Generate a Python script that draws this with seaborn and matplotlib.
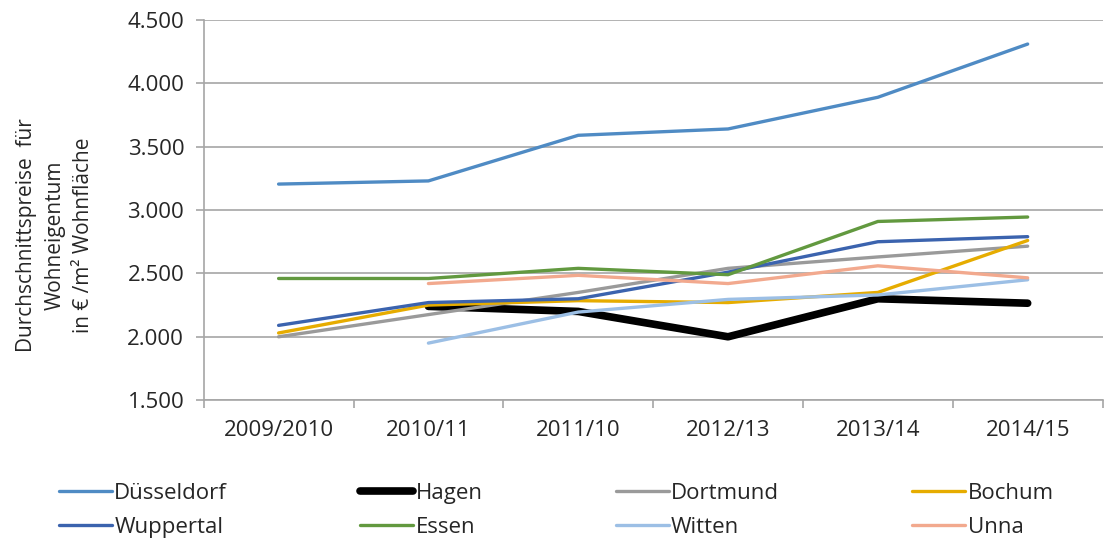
import matplotlib
matplotlib.use("Agg")
import matplotlib.pyplot as plt
import seaborn as sns
import numpy as np
import pandas as pd

years = ["2009/2010", "2010/11", "2011/10", "2012/13", "2013/14", "2014/15"]
duesseldorf = [3205, 3230, 3590, 3640, 3890, 4310]
hagen = [np.nan, 2240, 2200, 2000, 2300, 2265]
dortmund = [2000, 2175, 2350, 2540, 2630, 2715]
bochum = [2030, 2250, 2285, 2270, 2350, 2760]
wuppertal = [2090, 2270, 2300, 2510, 2750, 2790]
essen = [2460, 2460, 2540, 2490, 2910, 2945]
witten = [np.nan, 1950, 2195, 2295, 2330, 2450]
unna = [np.nan, 2420, 2485, 2420, 2560, 2465]

names = ["Düsseldorf", "Hagen", "Dortmund", "Bochum", "Wuppertal", "Essen", "Witten", "Unna"]
values = [duesseldorf, hagen, dortmund, bochum, wuppertal, essen, witten, unna]
colors = ["#4F8BC4", "#000000", "#9A9A9A", "#E6AC00", "#3B63AE", "#62993F", "#9CBFE5", "#F2A98E"]
widths = [2.4, 5.5, 2.4, 2.4, 2.4, 2.4, 2.4, 2.4]

sns.set_theme(style="white")
plt.rcParams['font.family'] = ['Open Sans', 'DejaVu Sans']

fig = plt.figure(figsize=(11.07, 5.4), dpi=100)
ax = fig.add_axes([0.184, 0.259, 0.812, 0.704])

handles = {}
for name, vals, c, w in zip(names, values, colors, widths):
    df = pd.DataFrame({"x": np.arange(len(years)), "y": vals}).dropna()
    sns.lineplot(data=df, x="x", y="y", ax=ax, color=c, linewidth=w, label=name, legend=False)
    handles[name] = ax.lines[-1]

ax.set_xlim(-0.5, len(years) - 0.5)
ax.set_ylim(1500, 4500)
ax.set_yticks(np.arange(1500, 4501, 500))
ax.set_yticklabels([f"{v:,}".replace(",", ".") for v in range(1500, 4501, 500)])
ax.set_xticks(np.arange(len(years)))
ax.set_xticklabels(years)
ax.set_xticks(np.arange(-0.5, len(years)), minor=True)
ax.tick_params(axis="x", which="major", length=0, pad=14, labelsize=16, colors="#262626")
ax.tick_params(axis="x", which="minor", length=6, color="#A6A6A6", width=1.2, bottom=True)
ax.tick_params(axis="y", length=6, color="#A6A6A6", width=1.2, left=True, pad=8, labelsize=16, labelcolor="#262626")
ax.yaxis.grid(True, color="#A6A6A6", linewidth=1.2)
ax.set_axisbelow(True)
for s in ["top", "right"]:
    ax.spines[s].set_visible(False)
for s in ["left", "bottom"]:
    ax.spines[s].set_color("#A6A6A6")
    ax.spines[s].set_linewidth(1.2)
ax.set_xlabel("")
ax.set_ylabel("")
fig.text(55 / 1107, 1 - 235 / 540, "Durchschnittspreise  für\nWohneigentum\nin € /m² Wohnfläche",
         rotation=90, ha="center", va="center", multialignment="center",
         fontsize=15, color="#262626", linespacing=1.45)

order = ["Düsseldorf", "Wuppertal", "Hagen", "Essen", "Dortmund", "Witten", "Bochum", "Unna"]
leg = fig.legend([handles[n] for n in order], order, loc="lower left", ncol=4,
                 bbox_to_anchor=(0.045, -0.013, 0.915, 0.14), mode="expand", frameon=False,
                 fontsize=16, handlelength=2.4, handletextpad=0.1, labelspacing=0.6,
                 borderaxespad=0.0)
for t in leg.get_texts():
    t.set_color("#262626")

fig.savefig("out.png", dpi=100)
